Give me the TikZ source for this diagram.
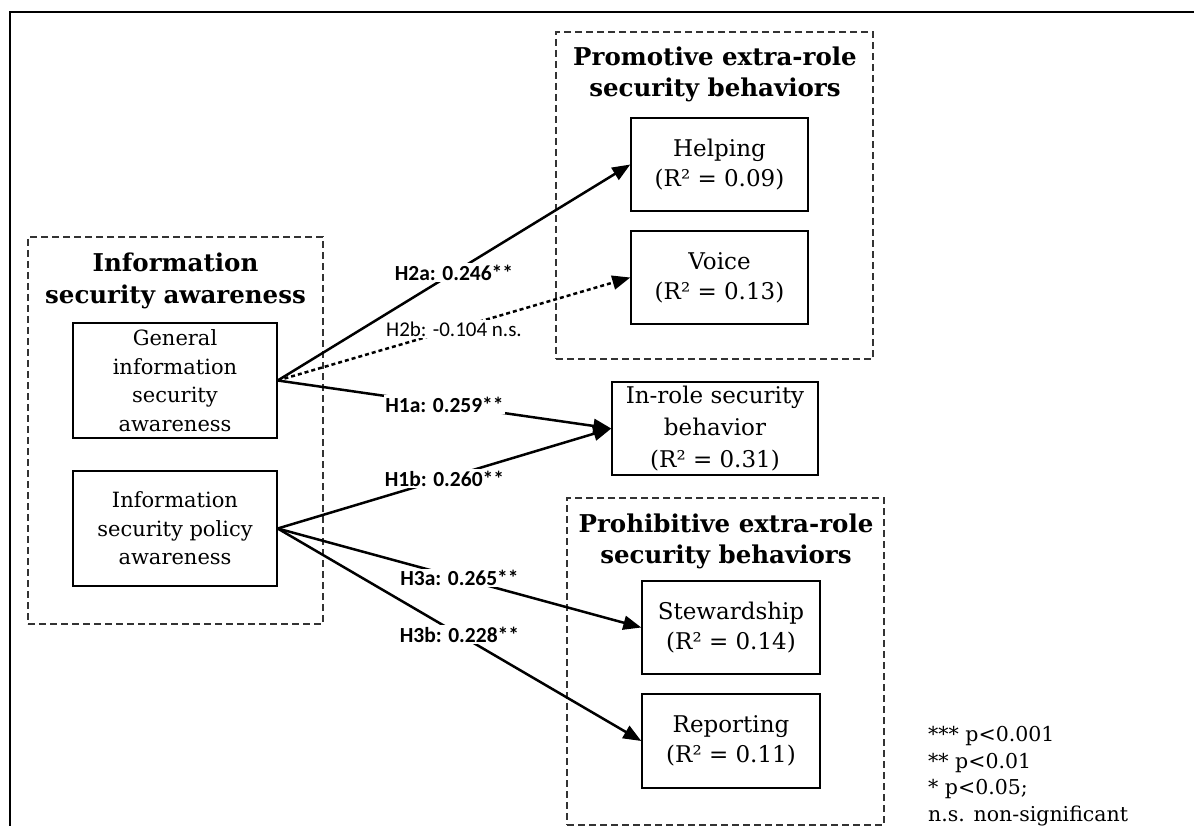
\documentclass[tikz,border=0pt]{standalone}
\usepackage{fontspec}
\setmainfont{DejaVu Serif}
\newfontfamily\labelfont{Carlito}
\usetikzlibrary{arrows.meta}
\begin{document}
\begin{tikzpicture}[x=1pt,y=-1pt,
  box/.style={draw, line width=1.4pt, inner sep=0pt, align=center,
    font=\fontsize{23}{30}\selectfont},
  lbox/.style={box, font=\fontsize{21}{28.5}\selectfont,
    minimum width=204pt, minimum height=115pt},
  rbox/.style={box, minimum width=177pt, minimum height=93pt},
  grp/.style={draw=black!80, line width=1.2pt, dash pattern=on 7pt off 4pt,
    inner sep=0pt},
  gtitle/.style={font=\bfseries\fontsize{24.5}{31.5}\selectfont, align=center,
    inner sep=0pt},
  eff/.style={line width=2.5pt, -{Triangle[length=18pt,width=14pt]}},
  nseff/.style={eff, dash pattern=on 4pt off 3pt},
  elab/.style={fill=white, inner sep=1.5pt,
    font=\labelfont\bfseries\fontsize{21.5}{23}\selectfont},
  elabns/.style={elab, font=\labelfont\fontsize{21}{23}\selectfont}
]
\useasboundingbox (0,0) rectangle (1194,826);
% outer frame
\draw[line width=2.2pt] (1194,12) -- (10,12) -- (10,826);

% groups
\node[grp, minimum width=295pt, minimum height=387pt] (isa) at (175.5,430.5) {};
\node[grp, minimum width=317pt, minimum height=327pt] (prom) at (714.5,195.5) {};
\node[grp, minimum width=317pt, minimum height=327pt] (proh) at (725.5,661.5) {};

\node[gtitle] (isat) at (175.5,281) {Information\\security awareness};
\node[gtitle] (promt) at (715,74.5) {Promotive extra-role\\security behaviors};
\node[gtitle] (proht) at (726,541.5) {Prohibitive extra-role\\security behaviors};

% constructs
\node[lbox] (gen) at (175,380.5) {General\\information\\security\\awareness};
\node[lbox] (pol) at (175,528.5) {Information\\security policy\\awareness};

\node[rbox] (help) at (719.5,164.5) {Helping\\(R² = 0.09)};
\node[rbox] (voice) at (719.5,277.5) {Voice\\(R² = 0.13)};
\node[box, minimum width=206pt, minimum height=93pt,
  font=\fontsize{23}{32}\selectfont] (inrole) at (715,428.5)
  {In-role security\\behavior\\(R² = 0.31)};
\node[rbox, minimum width=178pt] (stew) at (731,627.5) {Stewardship\\(R² = 0.14)};
\node[rbox, minimum width=178pt, minimum height=94pt] (rep) at (731,741) {Reporting\\(R² = 0.11)};

% paths
\draw[eff] (gen.east) -- node[elab] {H2a: 0.246**} (help.west);
\draw[nseff] (gen.east) -- node[elabns] {H2b: -0.104 n.s.} (voice.west);
\draw[eff] (gen.east) -- node[elab] {H1a: 0.259**} (inrole.west);
\draw[eff] (pol.east) -- node[elab] {H1b: 0.260**} (inrole.west);
\draw[eff] (pol.east) -- node[elab] {H3a: 0.265**} (stew.west);
\draw[eff] (pol.east) -- node[elab] {H3b: 0.228**} (rep.west);

% legend
\node[anchor=north west, align=left, inner sep=0pt,
  font=\fontsize{20.5}{26.7}\selectfont] (legend) at (928,726)
  {*** p<0.001\\** p<0.01\\* p<0.05;\\n.s. non-significant};
\end{tikzpicture}
\end{document}
